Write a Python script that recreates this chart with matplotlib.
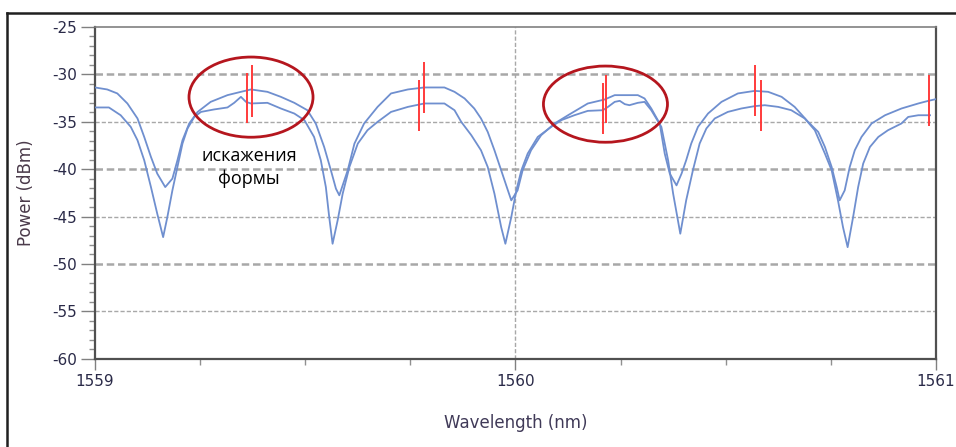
import numpy as np
import matplotlib
matplotlib.use('Agg')
import matplotlib.pyplot as plt
from matplotlib.patches import Ellipse
from matplotlib.lines import Line2D
from matplotlib.ticker import MultipleLocator

plt.rcParams['axes.unicode_minus'] = False

# верхняя кривая (мелкие провалы)
wl_a = [1559.000, 1559.029, 1559.053, 1559.077, 1559.101, 1559.117, 1559.133, 1559.148,
        1559.167, 1559.184, 1559.196, 1559.208, 1559.224, 1559.244, 1559.275, 1559.315,
        1559.347, 1559.371, 1559.410, 1559.442, 1559.474, 1559.505, 1559.525, 1559.545,
        1559.561, 1559.573, 1559.581, 1559.601, 1559.617, 1559.640, 1559.672, 1559.704,
        1559.744, 1559.783, 1559.831, 1559.855, 1559.879, 1559.902, 1559.918, 1559.934,
        1559.950, 1559.966, 1559.982, 1559.990, 1560.005, 1560.017, 1560.037, 1560.061,
        1560.093, 1560.125, 1560.172, 1560.212, 1560.236, 1560.291, 1560.307, 1560.323,
        1560.343, 1560.355, 1560.367, 1560.383, 1560.395, 1560.406, 1560.418, 1560.434,
        1560.458, 1560.490, 1560.529, 1560.569, 1560.601, 1560.633, 1560.664, 1560.696,
        1560.720, 1560.736, 1560.752, 1560.764, 1560.771, 1560.783, 1560.795, 1560.807,
        1560.823, 1560.847, 1560.879, 1560.918, 1560.958, 1560.982, 1561.000]
pw_a = [-31.38, -31.59, -32.01, -33.07, -34.65, -36.60, -38.71, -40.47,
        -41.89, -41.00, -39.06, -36.95, -35.18, -33.96, -32.90, -32.19,
        -31.84, -31.59, -31.84, -32.37, -33.00, -33.78, -35.18, -37.66,
        -40.12, -42.06, -42.76, -40.12, -37.30, -35.18, -33.43, -32.01,
        -31.59, -31.38, -31.38, -31.84, -32.54, -33.60, -34.65, -36.07,
        -38.01, -40.12, -42.24, -43.29, -42.24, -40.12, -38.01, -36.42,
        -35.18, -34.31, -33.07, -32.65, -32.19, -32.19, -32.54, -33.60,
        -35.18, -38.36, -40.47, -41.71, -40.47, -39.06, -37.30, -35.54,
        -34.13, -32.90, -32.01, -31.74, -31.84, -32.37, -33.43, -35.01,
        -36.07, -37.66, -39.77, -41.89, -43.29, -42.24, -39.77, -38.01,
        -36.60, -35.18, -34.31, -33.60, -33.07, -32.79, -32.61]

# нижняя кривая (глубокие провалы)
wl_b = [1559.000, 1559.033, 1559.061, 1559.085, 1559.101, 1559.117, 1559.133, 1559.148,
        1559.162, 1559.172, 1559.184, 1559.196, 1559.208, 1559.220, 1559.236, 1559.252,
        1559.283, 1559.315, 1559.331, 1559.347, 1559.359, 1559.371, 1559.410, 1559.442,
        1559.474, 1559.498, 1559.521, 1559.537, 1559.549, 1559.557, 1559.565, 1559.577,
        1559.589, 1559.605, 1559.625, 1559.648, 1559.672, 1559.704, 1559.744, 1559.783,
        1559.831, 1559.855, 1559.871, 1559.895, 1559.918, 1559.934, 1559.950, 1559.966,
        1559.976, 1559.990, 1560.002, 1560.014, 1560.029, 1560.053, 1560.085, 1560.109,
        1560.140, 1560.172, 1560.208, 1560.220, 1560.236, 1560.248, 1560.260, 1560.271,
        1560.291, 1560.307, 1560.323, 1560.347, 1560.363, 1560.375, 1560.385, 1560.392,
        1560.406, 1560.422, 1560.438, 1560.454, 1560.474, 1560.505, 1560.537, 1560.569,
        1560.593, 1560.625, 1560.656, 1560.688, 1560.712, 1560.736, 1560.752, 1560.767,
        1560.779, 1560.790, 1560.803, 1560.815, 1560.827, 1560.843, 1560.863, 1560.886,
        1560.918, 1560.934, 1560.958, 1560.986]
pw_b = [-33.49, -33.49, -34.31, -35.54, -36.95, -39.06, -41.89, -44.70,
        -47.17, -45.06, -42.24, -39.77, -37.30, -35.71, -34.49, -33.96,
        -33.70, -33.49, -33.00, -32.37, -32.90, -33.07, -33.00, -33.60,
        -34.13, -34.83, -36.60, -39.06, -41.89, -45.06, -47.87, -45.41,
        -42.59, -39.77, -37.30, -35.89, -35.01, -33.96, -33.43, -33.07,
        -33.07, -33.78, -35.01, -36.42, -38.01, -39.77, -42.59, -46.12,
        -47.87, -45.06, -42.24, -40.12, -38.36, -36.60, -35.54, -34.83,
        -34.31, -33.85, -33.78, -33.43, -32.90, -32.79, -33.14, -33.25,
        -33.00, -32.90, -33.78, -35.54, -39.06, -42.59, -45.06, -46.81,
        -43.29, -40.12, -37.30, -35.71, -34.65, -33.96, -33.60, -33.35,
        -33.25, -33.43, -33.78, -34.65, -35.89, -38.36, -40.12, -43.29,
        -46.12, -48.23, -45.06, -41.89, -39.41, -37.66, -36.60, -35.89,
        -35.18, -34.49, -34.31, -34.31]

# красные маркеры: длина волны, нижний и верхний край
marker_wl = [1559.361, 1559.373, 1559.771, 1559.783, 1560.208, 1560.216, 1560.569, 1560.585, 1560.983]
marker_lo = [-35.18, -34.49, -35.96, -34.06, -36.31, -35.18, -34.41, -35.96, -35.47]
marker_hi = [-29.90, -29.02, -30.60, -28.67, -30.95, -30.08, -29.02, -30.60, -30.08]

# эллипсы: центр (нм, дБм), ширина, высота
ell_x = [1559.371, 1560.214]
ell_y = [-32.40, -33.14]
ell_w = [0.295, 0.295]
ell_h = [8.46, 8.04]

x_ticks = [1559, 1560, 1561]
y_ticks = [-25, -30, -35, -40, -45, -50, -55, -60]

fig = plt.figure(figsize=(9.56, 4.47), dpi=100)
ax = fig.add_axes([0.0994, 0.1975, 0.8796, 0.7421])

# сетка
for y in [-30, -35, -40, -45, -50, -55]:
    lw = 1.8 if y in (-30, -40, -50) else 1.0
    ax.axhline(y, color='#a8a8a8', lw=lw, ls=(0, (3, 1.5)), zorder=1)
ax.axvline(1560, color='#a8a8a8', lw=1.0, ls=(0, (3, 1.5)), zorder=1)

ax.plot(wl_a, pw_a, color='#6f8fcf', lw=1.3, zorder=3)
ax.plot(wl_b, pw_b, color='#6f8fcf', lw=1.3, zorder=3)

ax.vlines(marker_wl, marker_lo, marker_hi, color='#ff3b3b', lw=1.4, zorder=4)

for cx, cy, w, h in zip(ell_x, ell_y, ell_w, ell_h):
    ax.add_patch(Ellipse((cx, cy), w, h, fill=False, edgecolor='#b5161e', lw=2.0, zorder=5))

ax.text(1559.366, -39.85, 'искажения\nформы', ha='center', va='center',
        fontsize=13, family='Open Sans', color='black', linespacing=1.3, zorder=6)

ax.set_xlim(1559, 1561)
ax.set_ylim(-60, -25)
ax.set_xticks(x_ticks)
ax.set_yticks(y_ticks)
ax.xaxis.set_minor_locator(MultipleLocator(0.25))
ax.yaxis.set_minor_locator(MultipleLocator(1))
ax.tick_params(axis='both', which='major', direction='out', length=8, width=1.0,
               color='#808080', labelsize=11, labelcolor='#2a2a48', pad=3)
ax.tick_params(axis='both', which='minor', direction='out', length=4, width=1.0, color='#909090')
ax.tick_params(axis='y', which='major', length=10)

for side in ['left', 'bottom', 'right']:
    ax.spines[side].set_color('#505050')
    ax.spines[side].set_linewidth(1.6)
ax.spines['top'].set_color('#808080')
ax.spines['top'].set_linewidth(1.2)

ax.set_xlabel('Wavelength (nm)', fontsize=12, color='#403a58', labelpad=18)
ax.set_ylabel('Power (dBm)', fontsize=12, color='#4a3a4a', labelpad=12)

# внешняя рамка
fig.add_artist(Line2D([7 / 956, 7 / 956], [0, 1 - 13 / 447], color='#202020', lw=1.8))
fig.add_artist(Line2D([7 / 956, 1], [1 - 13 / 447, 1 - 13 / 447], color='#202020', lw=1.8))

fig.savefig('out.png', dpi=100)
